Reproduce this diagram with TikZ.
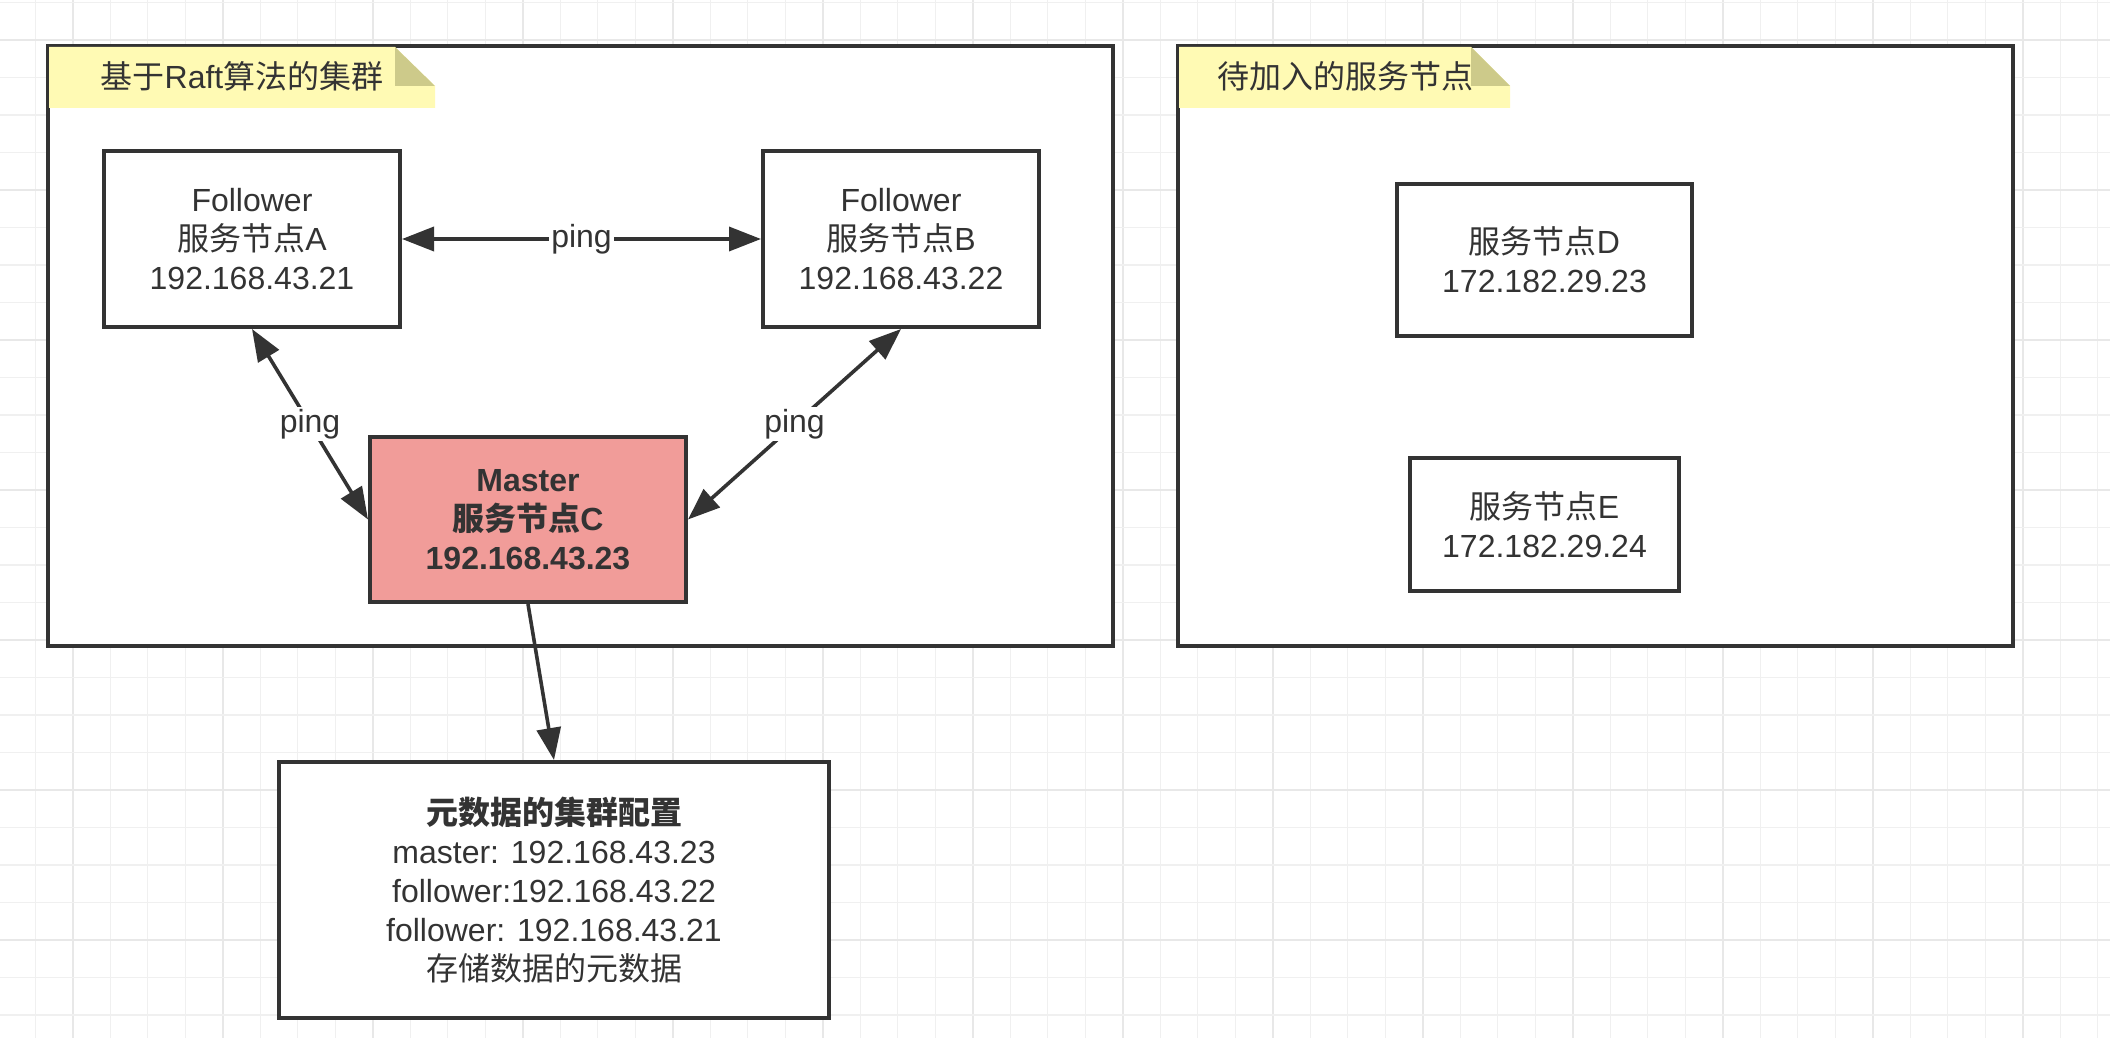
\documentclass[tikz,border=0pt]{standalone}
\usepackage{fontspec}
\setmainfont{Liberation Sans}
\newfontfamily\cjk{Noto Sans CJK SC}
\newcommand{\zh}[1]{{\cjk #1}}
\usetikzlibrary{arrows.meta}
\definecolor{linegray}{HTML}{333333}
\definecolor{gridminor}{HTML}{F0F0F0}
\definecolor{gridmajor}{HTML}{E8E8E8}
\definecolor{notefill}{HTML}{FFFAB4}
\definecolor{notefold}{HTML}{CDCA8A}
\definecolor{masterfill}{HTML}{F19C99}

\begin{document}
\begin{tikzpicture}[
    x=0.5pt, y=-0.5pt,
    font=\fontsize{16pt}{19.5pt}\selectfont, text=linegray,
    gridline/.style={draw=gridminor, line width=0.7pt},
    gridbold/.style={draw=gridmajor, line width=0.8pt},
    frame/.style={draw=linegray, line width=2pt, fill=white},
    note/.style={fill=notefill},
    fold/.style={fill=notefold},
    box/.style={draw=linegray, line width=2pt, fill=white, align=center, inner sep=0pt},
    master/.style={box, fill=masterfill, font=\fontsize{16pt}{19.5pt}\selectfont\bfseries},
    ar/.style={{Triangle[length=16pt, width=12pt]}-{Triangle[length=16pt, width=12pt]}, draw=linegray, line width=1.8pt},
    arone/.style={-{Triangle[length=16pt, width=12pt]}, draw=linegray, line width=1.8pt},
    lbl/.style={midway, fill=white, inner sep=1pt},
]
\useasboundingbox (0,0) rectangle (2110,1038);

% Background grid (a darker line every fourth one).
\foreach \i in {0,...,55} {
  \pgfmathtruncatemacro{\m}{mod(\i,4)}
  \ifnum\m=1 \draw[gridbold] ({35.2+37.5*\i},0) -- ({35.2+37.5*\i},1038);
  \else \draw[gridline] ({35.2+37.5*\i},0) -- ({35.2+37.5*\i},1038); \fi
}
\foreach \j in {0,...,27} {
  \pgfmathtruncatemacro{\m}{mod(\j,4)}
  \ifnum\m=1 \draw[gridbold] (0,{2.5+37.5*\j}) -- (2110,{2.5+37.5*\j});
  \else \draw[gridline] (0,{2.5+37.5*\j}) -- (2110,{2.5+37.5*\j}); \fi
}

% Containers with their sticky-note titles.
\draw[frame] (48,46) rectangle (1113,646);
\fill[note] (49,47) -- (395,47) -- (435,86) -- (435,108) -- (49,108) -- cycle;
\fill[fold] (395,47) -- (395,86) -- (435,86) -- cycle;
\node (raft_title) at (242,76) {\zh{基于}Raft\zh{算法的集群}};

\draw[frame] (1178,46) rectangle (2013,646);
\fill[note] (1179,47) -- (1471,47) -- (1510,86) -- (1510,108) -- (1179,108) -- cycle;
\fill[fold] (1471,47) -- (1471,86) -- (1510,86) -- cycle;
\node (join_title) at (1345,76) {\zh{待加入的服务节点}};

% Raft cluster.
\node[box, minimum width=148pt, minimum height=88pt]  (node_a) at (252,239)   {Follower\\\zh{服务节点}A\\192.168.43.21};
\node[box, minimum width=138pt, minimum height=88pt]  (node_b) at (901,239)   {Follower\\\zh{服务节点}B\\192.168.43.22};
\node[master, minimum width=158pt, minimum height=82.5pt] (node_c) at (528,519.5) {Master\\\zh{服务节点}C\\192.168.43.23};

% Nodes waiting to join.
\node[box, minimum width=147.5pt, minimum height=76pt]  (node_d) at (1544.5,260)   {\zh{服务节点}D\\172.182.29.23};
\node[box, minimum width=134.5pt, minimum height=66.5pt] (node_e) at (1544.5,524.5) {\zh{服务节点}E\\172.182.29.24};

% Cluster metadata.
\node[box, minimum width=275pt, minimum height=128pt] (meta) at (554,890)
  {{\cjk\bfseries 元数据的集群配置}\\master: 192.168.43.23\\follower:192.168.43.22\\follower: 192.168.43.21\\\zh{存储数据的元数据}};

% Heartbeats and config.
\draw[ar] (node_a) -- node[lbl]{ping} (node_b);
\draw[ar] (node_a.south) -- node[lbl]{ping} (node_c.west);
\draw[ar] (node_b.south) -- node[lbl]{ping} (node_c.east);
\draw[arone] (node_c.south) -- (meta.north);
\end{tikzpicture}
\end{document}
